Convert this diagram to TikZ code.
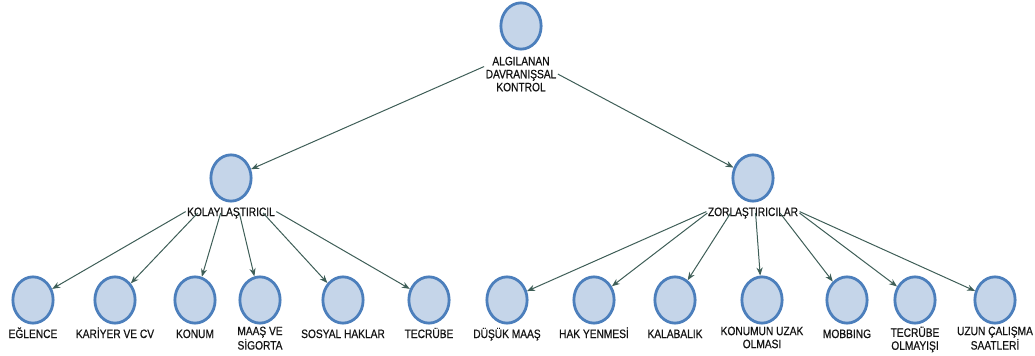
\documentclass[tikz,border=0pt]{standalone}
\usepackage{fontspec}
\setmainfont{Liberation Sans}[FakeStretch=0.84,FakeBold=0.6]
\usetikzlibrary{positioning,shapes.geometric,arrows.meta,calc}
\definecolor{ringblue}{RGB}{76,127,188}
\definecolor{discfill}{RGB}{197,213,233}
\definecolor{linkgreen}{RGB}{62,94,87}
\definecolor{txtgray}{RGB}{20,20,20}
\tikzset{
  disc/.style={ellipse,draw=ringblue,fill=discfill,line width=2.1pt,
    minimum width=30.2pt,minimum height=34.7pt,inner sep=0pt},
  tag/.style={align=center,inner sep=1pt,text=txtgray,
    font=\fontsize{9.1}{9.75}\selectfont,
    execute at begin node=\rule{0pt}{8.5pt}},
  link/.style={->,draw=linkgreen,line width=0.75pt}
}
\begin{document}
\begin{tikzpicture}[x=0.75pt,y=-0.75pt,>={Stealth[length=6pt,width=4.6pt]},node distance=0.4pt]
  \useasboundingbox (0,0) rectangle (1035,356);
  % root
  \node[disc] (akd) at (521,26) {};
  \node[tag,below=3.5pt of akd] (akd-l) {ALGILANAN\\DAVRANIŞSAL\\KONTROL};
  % second level
  \node[disc] (kol) at (231,178) {};
  \node[tag,below=of kol] (kol-l) {KOLAYLAŞTIRICIL};
  \node[disc] (zor) at (753,178) {};
  \node[tag,below=of zor] (zor-l) {ZORLAŞTIRICILAR};
  % leaves
  \node[disc] (eglence) at (33,300) {};
  \node[tag,below=of eglence] (eglence-l) {EĞLENCE};
  \node[disc] (kariyer) at (115,300) {};
  \node[tag,below=of kariyer] (kariyer-l) {KARİYER VE CV};
  \node[disc] (konum) at (195,300) {};
  \node[tag,below=of konum] (konum-l) {KONUM};
  \node[disc] (maas) at (260,300) {};
  \node[tag,below=of maas] (maas-l) {MAAŞ VE\\SİGORTA};
  \node[disc] (sosyal) at (343,300) {};
  \node[tag,below=of sosyal] (sosyal-l) {SOSYAL HAKLAR};
  \node[disc] (tecrube) at (429,300) {};
  \node[tag,below=of tecrube] (tecrube-l) {TECRÜBE};
  \node[disc] (dusuk) at (507,300) {};
  \node[tag,below=of dusuk] (dusuk-l) {DÜŞÜK MAAŞ};
  \node[disc] (hak) at (594,300) {};
  \node[tag,below=of hak] (hak-l) {HAK YENMESİ};
  \node[disc] (kalabalik) at (675,300) {};
  \node[tag,below=of kalabalik] (kalabalik-l) {KALABALIK};
  \node[disc] (uzak) at (762,300) {};
  \node[tag,below=of uzak] (uzak-l) {KONUMUN UZAK\\OLMASI};
  \node[disc] (mobbing) at (847,300) {};
  \node[tag,below=of mobbing] (mobbing-l) {MOBBING};
  \node[disc] (tecolm) at (915,300) {};
  \node[tag,below=of tecolm] (tecolm-l) {TECRÜBE\\OLMAYIŞI};
  \node[disc] (uzun) at (995,300) {};
  \node[tag,below=of uzun] (uzun-l) {UZUN ÇALIŞMA\\SAATLERİ};
  % links
  \draw[link] ($(akd-l.north west)!0.3!(akd-l.south west)$) -- (kol);
  \draw[link] (akd-l.east) -- (zor);
  \draw[link] (kol-l.west) -- (eglence);
  \draw[link] ($(kol)!0.287!(kariyer)$) -- (kariyer);
  \draw[link] ($(kol)!0.287!(konum)$) -- (konum);
  \draw[link] ($(kol)!0.287!(maas)$) -- (maas);
  \draw[link] ($(kol)!0.287!(sosyal)$) -- (sosyal);
  \draw[link] (kol-l.east) -- (tecrube);
  \draw[link] (zor-l.west) -- (dusuk);
  \draw[link] ($(zor)!0.287!(hak)$) -- (hak);
  \draw[link] ($(zor)!0.287!(kalabalik)$) -- (kalabalik);
  \draw[link] ($(zor)!0.287!(uzak)$) -- (uzak);
  \draw[link] ($(zor)!0.287!(mobbing)$) -- (mobbing);
  \draw[link] ($(zor)!0.287!(tecolm)$) -- (tecolm);
  \draw[link] (zor-l.east) -- (uzun);
\end{tikzpicture}
\end{document}
